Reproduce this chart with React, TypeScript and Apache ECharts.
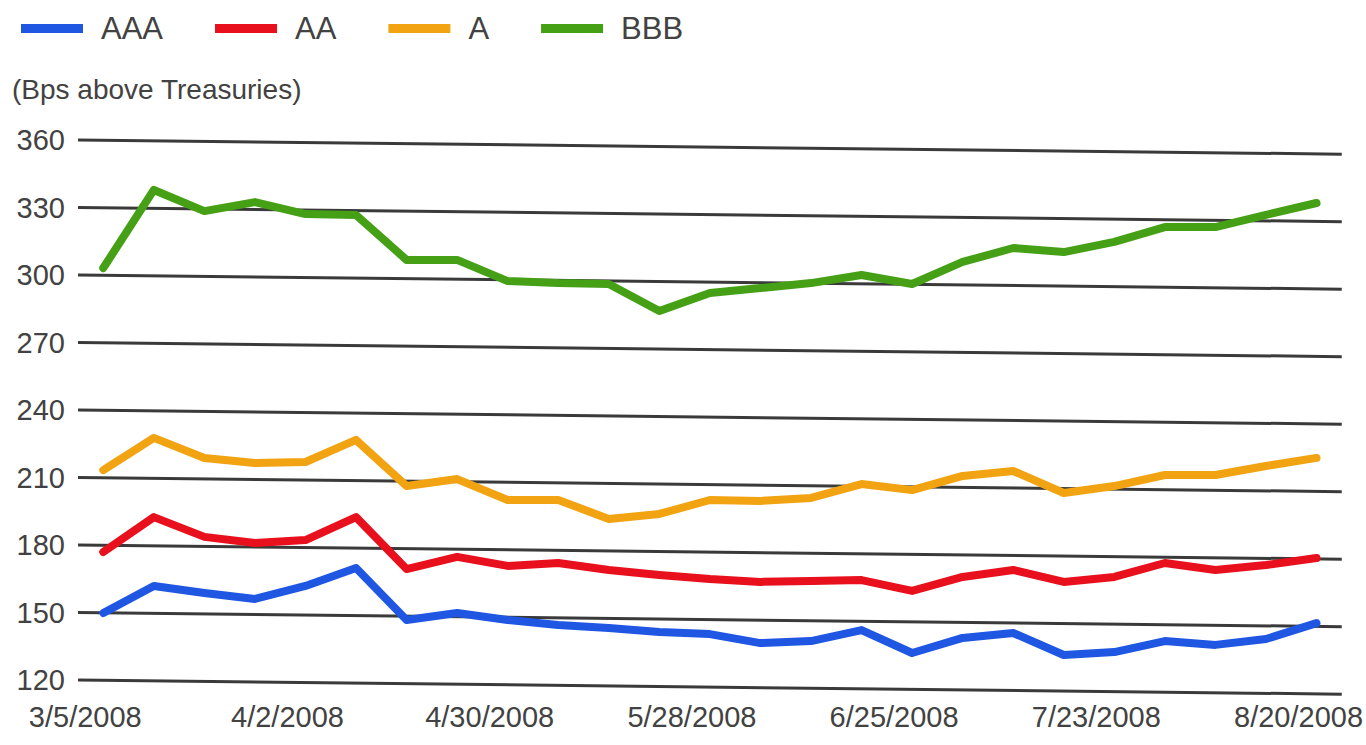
import React, { useEffect, useRef } from "react";
import * as echarts from "echarts";

// Weekly observation dates
const dates = [
  "3/5/2008", "3/12/2008", "3/19/2008", "3/26/2008", "4/2/2008", "4/9/2008",
  "4/16/2008", "4/23/2008", "4/30/2008", "5/7/2008", "5/14/2008", "5/21/2008",
  "5/28/2008", "6/4/2008", "6/11/2008", "6/18/2008", "6/25/2008", "7/2/2008",
  "7/9/2008", "7/16/2008", "7/23/2008", "7/30/2008", "8/6/2008", "8/13/2008",
  "8/20/2008",
];

// Spreads in basis points above Treasuries
const aaa = [
  149.8, 161.8, 158.7, 156.0, 161.8, 169.8, 146.7, 149.8, 146.7, 144.4, 143.1,
  141.3, 140.4, 136.4, 137.3, 142.2, 132.0, 138.7, 140.9, 131.1, 132.4, 137.3,
  135.6, 138.2, 145.3,
];
const aa = [
  176.9, 192.4, 183.6, 180.9, 182.2, 192.4, 169.3, 174.7, 170.7, 172.0, 168.9,
  166.7, 164.9, 163.6, 164.0, 164.4, 159.6, 165.8, 168.9, 163.6, 165.8, 172.0,
  168.9, 171.1, 174.2,
];
const singleA = [
  213.3, 227.6, 218.7, 216.4, 216.9, 226.7, 206.2, 209.3, 200.0, 200.0, 191.6,
  193.8, 200.0, 199.6, 200.9, 207.1, 204.4, 210.7, 212.9, 203.1, 206.2, 211.1,
  211.1, 215.1, 218.7,
];
const bbb = [
  303.1, 337.8, 328.4, 332.4, 327.1, 326.7, 306.7, 306.7, 297.3, 296.4, 296.0,
  284.0, 292.0, 294.2, 296.4, 300.0, 296.0, 305.8, 312.0, 310.2, 314.7, 321.3,
  321.3, 326.7, 332.0,
];

const seriesNames = ["AAA", "AA", "A", "BBB"];
const seriesColors = ["#1f56e2", "#e8101c", "#f2a312", "#45a016"];

// Value-axis rules
const yTicks = [120, 150, 180, 210, 240, 270, 300, 330, 360];
const yTitle = "(Bps above Treasuries)";

// The rules run slightly downhill from left to right
const RULE_DRIFT = 6.3;

const FONT = "'Liberation Sans', Arial, sans-serif";
const TEXT_COLOR = "#424242";

export default function App() {
  const ref = useRef<HTMLDivElement>(null);

  useEffect(() => {
    if (!ref.current) return;
    const chart = echarts.init(ref.current, null, { renderer: "svg" });

    const ruleSeries = yTicks.map((v) => ({
      type: "line",
      xAxisIndex: 1,
      silent: true,
      clip: false,
      symbol: "none",
      z: 1,
      lineStyle: { color: "#3a3a3a", width: 3 },
      data: [
        [-0.5, v],
        [dates.length - 0.5, v - RULE_DRIFT],
      ],
    }));

    const values = [aaa, aa, singleA, bbb];
    const dataSeries = values.map((vals, i) => ({
      name: seriesNames[i],
      type: "line",
      xAxisIndex: 0,
      symbol: "none",
      z: 5,
      color: seriesColors[i],
      lineStyle: {
        color: seriesColors[i],
        width: 8,
        cap: "round",
        join: "round",
      },
      data: vals,
    }));

    chart.setOption({
      animation: false,
      backgroundColor: "#ffffff",
      textStyle: { fontFamily: FONT },
      legend: {
        data: seriesNames,
        left: 16,
        top: 8,
        icon: "rect",
        itemWidth: 62,
        itemHeight: 9,
        itemGap: 52,
        textStyle: {
          fontSize: 31,
          color: TEXT_COLOR,
          fontFamily: FONT,
          padding: [0, 0, 0, 13],
        },
      },
      graphic: [
        {
          type: "text",
          left: 12,
          top: 75,
          style: {
            text: yTitle,
            fontSize: 28,
            fill: TEXT_COLOR,
            fontFamily: FONT,
          },
        },
      ],
      grid: { left: 78, right: 24, top: 140, bottom: 65 },
      xAxis: [
        {
          type: "category",
          data: dates,
          boundaryGap: true,
          axisLine: { show: false },
          axisTick: { show: false },
          splitLine: { show: false },
          axisLabel: {
            interval: 3,
            margin: 22,
            fontSize: 29,
            color: TEXT_COLOR,
            fontFamily: FONT,
            padding: [0, 36, 0, 0],
          },
        },
        {
          type: "value",
          min: -0.5,
          max: dates.length - 0.5,
          show: false,
          splitLine: { show: false },
        },
      ],
      yAxis: {
        type: "value",
        min: yTicks[0],
        max: yTicks[yTicks.length - 1],
        interval: 30,
        axisLine: { show: false },
        axisTick: { show: false },
        splitLine: { show: false },
        axisLabel: {
          margin: 13,
          fontSize: 29,
          color: TEXT_COLOR,
          fontFamily: FONT,
        },
      },
      series: [...ruleSeries, ...dataSeries],
    });

    return () => chart.dispose();
  }, []);

  return (
    <div
      ref={ref}
      style={{
        position: "fixed",
        left: 0,
        top: 0,
        width: 1366,
        height: 745,
        background: "#fff",
      }}
    />
  );
}
